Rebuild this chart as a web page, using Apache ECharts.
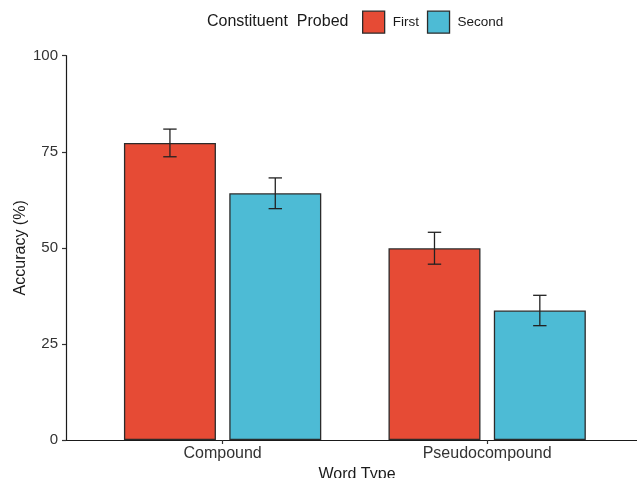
<!DOCTYPE html>
<html>
<head>
<meta charset="utf-8">
<script src="https://cdn.jsdelivr.net/npm/echarts@6/dist/echarts.min.js"></script>
<style>
html,body{margin:0;padding:0;background:#fff;}
#chart{width:637px;height:478px;}
</style>
</head>
<body>
<div id="chart"></div>
<script>
// ---- data ----
const categories = ["Compound", "Pseudocompound"];
const seriesNames = ["First", "Second"];
const firstMeans = [77.3, 49.9];
const secondMeans = [64.2, 33.7];
const firstErr = [3.6, 4.15];
const secondErr = [4.0, 3.95];
const yTicks = [0, 25, 50, 75, 100];

// ---- style ----
const colors = ["#E64B35", "#4DBBD5"];
const BAR_W = 92;
const BAR_GAP = 0.145;
const offsets = [-(BAR_W * (1 + BAR_GAP)) / 2, (BAR_W * (1 + BAR_GAP)) / 2];
const font = "Liberation Sans, Arial, Helvetica, sans-serif";

const xPos = categories.map((c, i) => i + 1);
const means = [firstMeans, secondMeans];
const errs = [firstErr, secondErr];

const barSeries = seriesNames.map((name, s) => ({
  name: name,
  type: "bar",
  barWidth: BAR_W,
  barGap: (BAR_GAP * 100) + "%",
  itemStyle: { color: colors[s], borderColor: "#2b2b2b", borderWidth: 1.3 },
  data: xPos.map((x, i) => [x, means[s][i]]),
  z: 2
}));

const errSeries = seriesNames.map((name, s) => ({
  type: "custom",
  name: name + "_err",
  z: 5,
  data: xPos.map((x, i) => [x, means[s][i] - errs[s][i], means[s][i] + errs[s][i]]),
  renderItem: function (params, api) {
    const x = api.value(0);
    const pHi = api.coord([x, api.value(2)]);
    const pLo = api.coord([x, api.value(1)]);
    const cx = pHi[0] + offsets[s];
    const cap = 6.7;
    const st = { stroke: "#222", lineWidth: 1.3 };
    return {
      type: "group",
      children: [
        { type: "line", shape: { x1: cx, y1: pHi[1], x2: cx, y2: pLo[1] }, style: st },
        { type: "line", shape: { x1: cx - cap, y1: pHi[1], x2: cx + cap, y2: pHi[1] }, style: st },
        { type: "line", shape: { x1: cx - cap, y1: pLo[1], x2: cx + cap, y2: pLo[1] }, style: st }
      ]
    };
  }
}));

const chart = echarts.init(document.getElementById("chart"), null, { renderer: "canvas" });
chart.setOption({
  animation: false,
  backgroundColor: "#fff",
  textStyle: { fontFamily: font },
  title: {
    text: "Constituent  Probed",
    left: 207,
    top: 13.5,
    padding: 0,
    textStyle: { fontSize: 16, fontWeight: "normal", color: "#1a1a1a", fontFamily: font }
  },
  legend: {
    data: seriesNames,
    left: 362,
    top: 10.5,
    padding: 0,
    itemWidth: 22,
    itemHeight: 22,
    itemGap: 8,
    icon: "rect",
    itemStyle: { borderColor: "#2b2b2b", borderWidth: 1.3 },
    textStyle: { fontSize: 13.5, color: "#1a1a1a", fontFamily: font, padding: [0, 0, 0, 3] }
  },
  grid: { left: 66, top: 55.7, width: 582, height: 384.3, containLabel: false, outerBoundsMode: "none" },
  xAxis: {
    type: "value",
    min: 0.408,
    max: 2.608,
    splitLine: { show: false },
    axisLine: { show: true, lineStyle: { color: "#1a1a1a", width: 1.2 } },
    axisTick: { show: true, customValues: xPos, length: 4, lineStyle: { color: "#333", width: 1.2 } },
    axisLabel: {
      show: true,
      customValues: xPos,
      formatter: v => categories[Math.round(v) - 1] || "",
      fontSize: 16,
      color: "#333",
      margin: 6,
      fontFamily: font
    },
    name: "Word Type",
    nameLocation: "middle",
    nameGap: 27,
    nameMoveOverlap: false,
    nameTextStyle: { fontSize: 16, color: "#1a1a1a", fontFamily: font }
  },
  yAxis: {
    type: "value",
    min: 0,
    max: 100,
    interval: 25,
    splitLine: { show: false },
    axisLine: { show: true, lineStyle: { color: "#1a1a1a", width: 1.2 } },
    axisTick: { show: true, length: 4, lineStyle: { color: "#333", width: 1.2 } },
    axisLabel: {
      fontSize: 15,
      color: "#333",
      margin: 8,
      fontFamily: font,
      formatter: v => (yTicks.indexOf(v) >= 0 ? String(v) : "")
    },
    name: "Accuracy (%)",
    nameLocation: "middle",
    nameGap: 37,
    nameRotate: 90,
    nameMoveOverlap: false,
    nameTextStyle: { fontSize: 16, color: "#1a1a1a", fontFamily: font }
  },
  series: barSeries.concat(errSeries)
});
</script>
</body>
</html>
